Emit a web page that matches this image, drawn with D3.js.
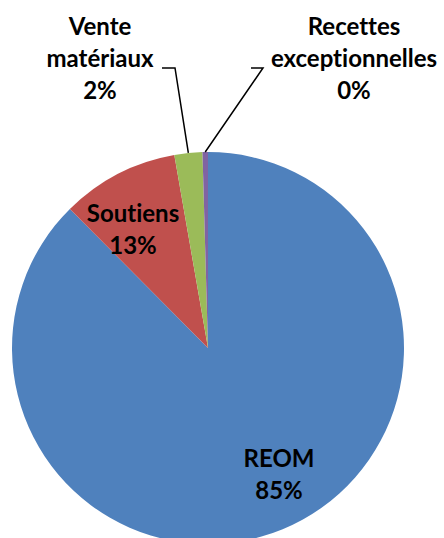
<!DOCTYPE html>
<html><head><meta charset="utf-8">
<script src="https://cdn.jsdelivr.net/npm/d3@7"></script>
<style>html,body{margin:0;padding:0;background:#fff;overflow:hidden}
text{font-variant-ligatures:none;font-feature-settings:"liga" 0,"clig" 0}</style>
</head><body>
<svg id="c" width="444" height="538"></svg>
<script>
const categories = ["REOM", "Soutiens", "Vente matériaux", "Recettes exceptionnelles"];
const values = [87.6, 9.7, 2.3, 0.45];
const percentLabels = ["85%", "13%", "2%", "0%"];
const labelLines = [["REOM"], ["Soutiens"], ["Vente", "matériaux"], ["Recettes", "exceptionnelles"]];
const colors = ["#4F81BD", "#C0504D", "#9BBB59", "#8064A2"];

const svg = d3.select("#c");
const cx = 208, cy = 348, R = 196;
const g = svg.append("g").attr("transform", `translate(${cx},${cy})`);
const pie = d3.pie().sort(null).value(d => d);
const arcs = pie(values);
const arc = d3.arc().innerRadius(0).outerRadius(R);

g.selectAll("path").data(arcs).enter().append("path")
  .attr("d", arc).attr("fill", (d, i) => colors[i])
  .attr("stroke", "none");

// label anchor positions (layout), first line baseline
const labelPos = [[279, 467], [133, 222], [100, 35], [354, 35]];
const lineH = 32;
labelLines.forEach((lines, i) => {
  const t = svg.append("text")
    .attr("text-anchor", "middle")
    .attr("font-family", "Lato, 'Open Sans', sans-serif")
    .attr("font-weight", "bold").attr("font-size", 24).attr("fill", "#000");
  const all = lines.concat([percentLabels[i]]);
  all.forEach((s, k) => {
    t.append("tspan").attr("x", labelPos[i][0]).attr("y", labelPos[i][1] + k * lineH).text(s);
  });
});

// leader lines
const leaderStart = { 2: [[162, 68], [175, 68]], 3: [[251, 68], [263, 68]] };
[2, 3].forEach(i => {
  const a = (arcs[i].startAngle + arcs[i].endAngle) / 2;
  const px = cx + R * Math.sin(a), py = cy - R * Math.cos(a);
  const pts = leaderStart[i].concat([[px, py]]);
  svg.append("path").attr("d", d3.line()(pts))
    .attr("fill", "none").attr("stroke", "#000").attr("stroke-width", 1.5);
});
</script>
</body></html>
